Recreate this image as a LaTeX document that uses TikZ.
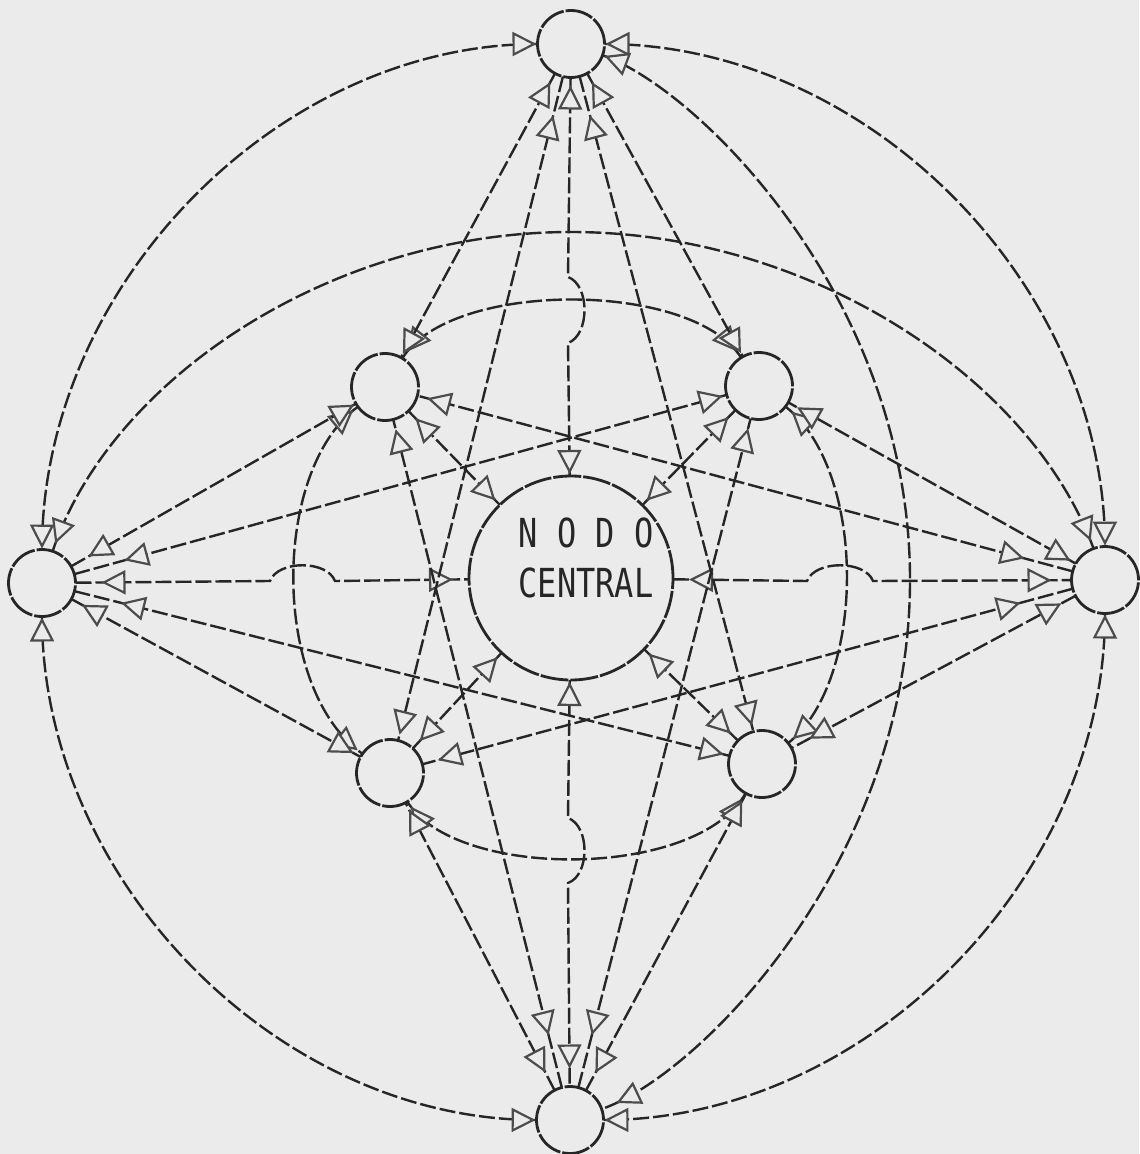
\documentclass[tikz,border=0pt]{standalone}
\usepackage{fontspec}
\usetikzlibrary{arrows.meta,decorations.markings}
\newfontfamily\stencilfont[FakeStretch=0.8]{DejaVu Sans Mono}
\begin{document}
\begin{tikzpicture}[x=0.5pt,y=-0.5pt,
  ink/.style={draw=black!85, line width=1.2pt},
  tip/.tip={Triangle[length=12pt,width=12pt,color=black!70,fill=black!8,line width=1.1pt]},
  link/.style 2 args={ink, dash pattern=on 8pt off 2pt,
     postaction={decorate, decoration={markings,
        mark=at position #1 with {\arrowreversed{tip}},
        mark=at position -#2 with {\arrow{tip}}}}},
  station/.style={circle, ink, line width=1.4pt, dash pattern=on 14pt off 1pt, minimum size=33.5pt, inner sep=0pt, outer sep=0pt},
  hub/.style={station, minimum size=102pt}]
\fill[black!8] (0,0) rectangle (1139,1154);
\useasboundingbox (0,0) rectangle (1139,1154);

% nodes
\node[station] (T)  at (571,44)   {};
\node[station] (B)  at (570,1120) {};
\node[station] (L)  at (42,583)   {};
\node[station] (R)  at (1105,580) {};
\node[station] (UL) at (385,387)  {};
\node[station] (UR) at (759,386)  {};
\node[station] (LL) at (390,773)  {};
\node[station] (LR) at (762,764)  {};
\node[hub]     (C)  at (571,578)  {};
\node[font=\stencilfont\fontsize{20}{25}\selectfont, align=center, text=black!85] (Ctext) at (586,558) {N O D O\\CENTRAL};

% outer ring
\draw[link={0.5pt}{0.5pt}] (T) .. controls (279,44) and (42,285) .. (L);
\draw[link={0.5pt}{0.5pt}] (T) .. controls (867,44) and (1105,284) .. (R);
\draw[link={0.5pt}{0.5pt}] (L) .. controls (42,880) and (278,1120) .. (B);
\draw[link={0.5pt}{0.5pt}] (R) .. controls (1105,878) and (867,1120) .. (B);

% long curves
\draw[link={4pt}{4pt}] (L) .. controls (110,380) and (330,232) .. (571,232) .. controls (812,232) and (1032,380) .. (R);
\draw[link={1pt}{8pt}] (T) .. controls (700,90) and (910,300) .. (910,580) .. controls (910,860) and (700,1075) .. (B);

% inner ring
\draw[link={4pt}{4pt}] (UL) .. controls (450,280) and (692,280) .. (UR);
\draw[link={3pt}{3pt}] (LL) .. controls (455,880) and (697,880) .. (LR);
\draw[link={3pt}{3pt}] (UL) .. controls (271,470) and (271,690) .. (LL);
\draw[link={4pt}{3pt}] (UR) .. controls (867,470) and (867,680) .. (LR);

% spokes to the centre (with hops)
\draw[link={4pt}{1pt}] (T) -- (568,277) .. controls (590,285) and (590,335) .. (568,343) -- (C);
\draw[link={1pt}{9pt}] (C) -- (568,818) .. controls (590,826) and (590,875) .. (568,883) -- (B);
\draw[link={13pt}{8pt}] (L) -- (270,581) .. controls (278,560) and (327,560) .. (335,581) -- (C);
\draw[link={8pt}{10pt}] (C) -- (807,581) .. controls (815,560) and (865,560) .. (873,581) -- (R);
\draw[link={5pt}{3pt}] (UL) -- (C);
\draw[link={5pt}{3pt}] (UR) -- (C);
\draw[link={5pt}{3pt}] (LL) -- (C);
\draw[link={5pt}{3pt}] (LR) -- (C);

% straight lines from the outer nodes
\draw[link={5pt}{2pt}]  (T) -- (UL);
\draw[link={20pt}{3pt}] (T) -- (LL);
\draw[link={20pt}{3pt}] (T) -- (LR);
\draw[link={5pt}{2pt}]  (T) -- (UR);
\draw[link={27pt}{5pt}] (B) -- (UL);
\draw[link={10pt}{4pt}] (B) -- (LL);
\draw[link={10pt}{4pt}] (B) -- (LR);
\draw[link={27pt}{5pt}] (B) -- (UR);
\draw[link={10pt}{1pt}] (L) -- (UL);
\draw[link={26pt}{2pt}] (L) -- (UR);
\draw[link={6pt}{4pt}]  (L) -- (LL);
\draw[link={24pt}{3pt}] (L) -- (LR);
\draw[link={25pt}{5pt}] (R) -- (UL);
\draw[link={3pt}{5pt}]  (R) -- (UR);
\draw[link={27pt}{8pt}] (R) -- (LL);
\draw[link={8pt}{10pt}] (R) -- (LR);
\end{tikzpicture}
\end{document}
